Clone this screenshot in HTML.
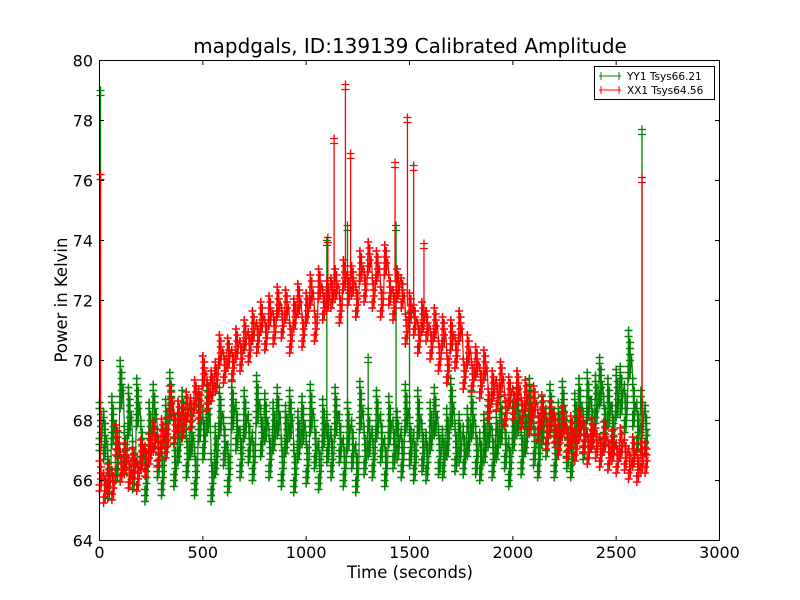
<!DOCTYPE html>
<html><head><meta charset="utf-8"><style>
body{margin:0;background:#fff;}
svg{display:block;font-family:"DejaVu Sans","Liberation Sans",sans-serif;}
</style></head><body>
<svg id="chart" width="800" height="600">
<rect x="0" y="0" width="800" height="600" fill="#fff"/>
<text x="410" y="53" font-size="20" text-anchor="middle">mapdgals, ID:139139 Calibrated Amplitude</text>
<g id="plot"></g>
<rect x="99.5" y="60.5" width="620" height="480" fill="none" stroke="#000"/>
<g id="axes"></g>
<text x="410" y="578" font-size="16.5" text-anchor="middle">Time (seconds)</text>
<text transform="translate(67,300) rotate(-90)" font-size="16.5" text-anchor="middle">Power in Kelvin</text>
<g>
<rect x="594.5" y="66.5" width="120" height="33" fill="#fff" stroke="#000"/>
<g>
<line x1="599" y1="76" x2="621" y2="76" stroke="#008000"/><line x1="601" y1="72" x2="601" y2="80" stroke="#008000"/><line x1="619" y1="72" x2="619" y2="80" stroke="#008000"/>
<text x="627" y="80" font-size="10.5">YY1 Tsys66.21</text></g>
<g>
<line x1="599" y1="90" x2="621" y2="90" stroke="#ff0000"/><line x1="601" y1="86" x2="601" y2="94" stroke="#ff0000"/><line x1="619" y1="86" x2="619" y2="94" stroke="#ff0000"/>
<text x="627" y="94" font-size="10.5">XX1 Tsys64.56</text></g>
</g>
</svg>
<script>
const xTicks=[0,500,1000,1500,2000,2500,3000];
const yTicks=[64,66,68,70,72,74,76,78,80];
const timeStep=20;
const yy1Spread=0.8;
const xx1Spread=0.55;
const yy1Values=[67.8,67.5,66.2,68.0,66.8,69.2,67.0,68.3,66.5,68.6,67.2,66.1,67.8,68.4,66.9,66.3,67.9,68.8,66.6,67.4,68.2,66.9,67.6,66.3,68.1,67.5,68.4,66.1,67.0,68.3,67.3,66.4,68.5,67.8,66.9,68.2,67.4,66.8,68.7,67.6,68.1,66.9,67.8,68.3,66.6,67.7,68.2,66.4,67.5,68.0,66.7,68.4,67.2,66.5,67.9,67.4,66.9,68.3,67.4,66.6,67.8,67.2,66.4,68.5,67.0,67.6,66.9,68.2,67.4,66.6,68.0,67.2,67.5,66.9,68.4,67.3,66.8,68.2,67.1,66.8,67.8,68.3,67.0,66.9,67.6,68.6,67.1,67.4,67.0,67.6,68.2,67.0,66.8,67.4,67.9,66.9,67.5,68.0,67.2,66.6,67.8,68.3,67.0,67.7,68.6,67.3,66.9,68.0,67.6,68.4,66.9,67.8,68.5,67.2,66.9,68.1,68.6,67.5,68.8,67.9,68.7,69.3,68.0,68.6,67.7,68.9,69.0,68.4,70.2,68.6,67.8,68.2,67.7];
const xx1Values=[66.2,65.8,66.1,65.9,67.4,66.5,66.8,66.3,66.6,66.2,66.9,66.7,67.1,67.5,67.0,67.6,67.3,68.7,67.8,68.2,68.0,68.5,68.3,68.9,68.6,69.7,68.9,69.2,69.5,70.4,69.8,70.3,69.9,70.6,70.2,70.9,70.5,71.2,70.8,71.5,70.9,71.7,71.1,72.0,71.3,71.9,70.8,71.6,72.1,71.0,71.8,72.4,71.2,72.6,71.9,72.2,72.3,72.6,71.8,72.9,72.4,72.7,72.0,73.2,72.5,73.5,72.3,73.2,72.0,73.4,72.4,71.9,72.6,72.3,71.1,71.8,71.4,70.8,71.5,71.2,70.6,71.3,70.2,71.0,69.8,70.9,70.3,71.2,69.6,70.4,69.5,70.0,69.3,69.9,68.6,69.2,68.9,69.5,68.4,69.0,68.6,69.2,68.3,68.9,68.1,68.7,67.9,68.4,67.6,68.2,67.8,67.4,68.0,67.3,67.7,67.2,67.9,67.5,67.1,67.6,67.3,67.0,67.5,66.9,67.2,66.8,67.3,66.9,66.6,67.0,66.5,66.8,66.8];
const yy1SpikeTimes=[5,1100,1200,1300,1435,1500,2625];
const yy1SpikeValues=[79.0,74.0,74.5,70.1,74.5,71.6,77.7];
const xx1SpikeTimes=[5,1105,1135,1190,1215,1430,1490,1520,1570,2625];
const xx1SpikeValues=[76.2,74.1,77.4,79.2,76.9,76.6,78.1,76.5,73.9,76.1];
const NS="http://www.w3.org/2000/svg";
const X=t=>99.5+t*620/3000;
const Y=v=>540.5-(v-64)*30;
function mk(tag,attrs,parent){const e=document.createElementNS(NS,tag);for(const k in attrs)e.setAttribute(k,attrs[k]);parent.appendChild(e);return e;}
const axes=document.getElementById('axes');
xTicks.forEach(t=>{
  const g=mk('g',{},axes);
  
  
  mk('line',{x1:X(t),x2:X(t),y1:540,y2:536,stroke:'#000'},g);
  mk('line',{x1:X(t),x2:X(t),y1:61,y2:65,stroke:'#000'},g);
  const tx=mk('text',{x:X(t),y:558,'font-size':16,'text-anchor':'middle'},g);tx.textContent=t;
});
yTicks.forEach(v=>{
  const g=mk('g',{},axes);
  
  
  mk('line',{x1:100,x2:104,y1:Y(v),y2:Y(v),stroke:'#000'},g);
  mk('line',{x1:719,x2:715,y1:Y(v),y2:Y(v),stroke:'#000'},g);
  const tx=mk('text',{x:93,y:Y(v)+6,'font-size':16,'text-anchor':'end'},g);tx.textContent=v;
});
const plot=document.getElementById('plot');
function series(vals,spread,sT,sV,color,name){
  const g=mk('g',{},plot);
  
  
  let pts=[];
  let d='';
  vals.forEach((v,i)=>{
    const x=X(i*timeStep);
    pts.push(x.toFixed(1)+','+Y(v+spread).toFixed(1));
    pts.push((x+1.5).toFixed(1)+','+Y(v-spread).toFixed(1));
    pts.push((x+3).toFixed(1)+','+Y(v).toFixed(1));
    for(let k=-spread;k<=spread+1e-6;k+=0.2){
      const y=Y(v+k);
      const dx=x+(Math.abs(k)<spread/2?1.5:0);
      d+=`M${dx-4},${y}h8M${dx},${y-4}v8`;
    }
  });
  mk('polyline',{points:pts.join(' '),fill:'none',stroke:color,'stroke-width':1.2},g);
  mk('path',{d:d,stroke:color,'stroke-width':1.5,fill:'none'},g);
  let sd='';
  sT.forEach((t,i)=>{
    const idx=Math.min(vals.length-1,Math.round(t/timeStep));
    const x=X(t),yb=Y(vals[idx]),yt=Y(sV[i]);
    sd+=`M${x},${yb}V${yt}`;
    sd+=`M${x-4},${yt}h8M${x},${yt-4}v8`;
    sd+=`M${x-4},${yt+5}h8`;
  });
  const sp=mk('path',{d:sd,stroke:color,'stroke-width':1.3,fill:'none'},g);
  
  
}
series(yy1Values,yy1Spread,yy1SpikeTimes,yy1SpikeValues,'#008000','series-yy1');
series(xx1Values,xx1Spread,xx1SpikeTimes,xx1SpikeValues,'#ff0000','series-xx1');
</script>
</body></html>
